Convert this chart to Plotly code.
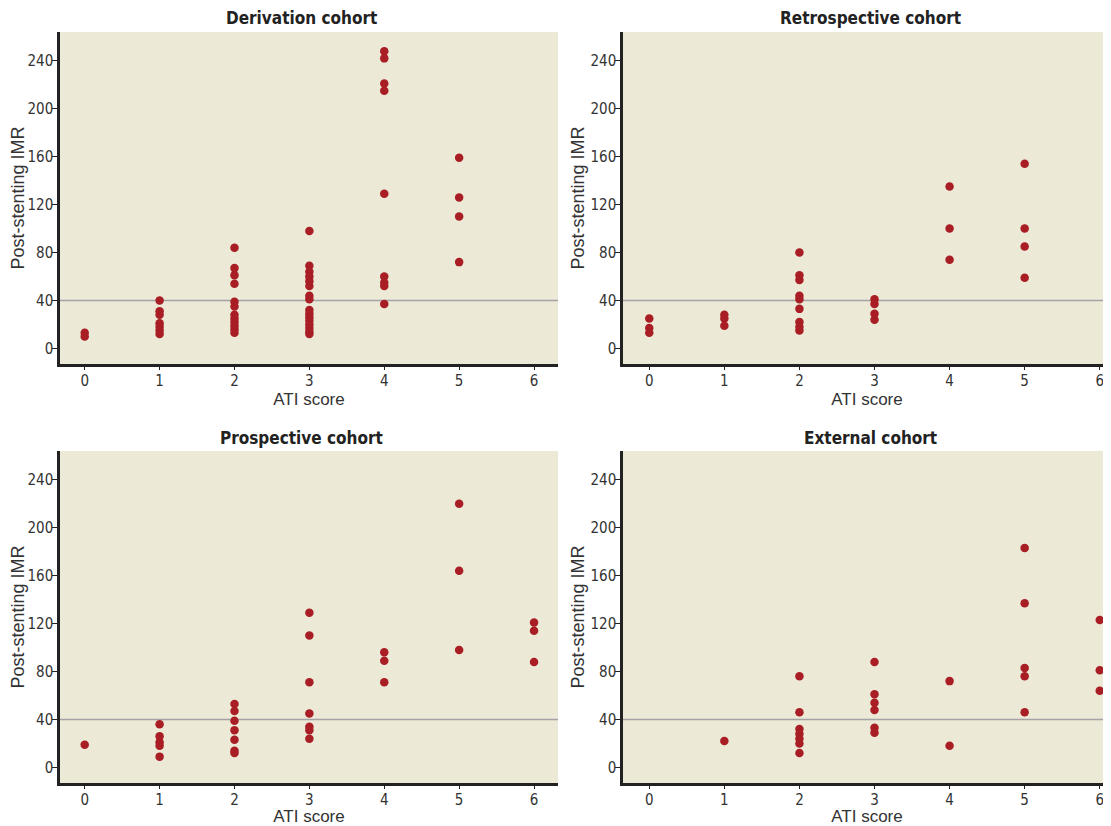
import plotly.graph_objects as go

# ---------------- data ----------------
cohort_titles = ["Derivation cohort", "Retrospective cohort", "Prospective cohort", "External cohort"]

derivation_ati = [0]*2 + [1]*7 + [2]*12 + [3]*16 + [4]*9 + [5]*4
derivation_imr = [13, 10,
                  40, 31, 28, 21, 18, 15, 12,
                  84, 67, 61, 54, 39, 35, 28, 25, 22, 19, 16, 13,
                  98, 69, 64, 60, 56, 52, 44, 41, 32, 29, 26, 23, 20, 17, 14, 12,
                  248, 242, 221, 215, 129, 60, 55, 52, 37,
                  159, 126, 110, 72]

retrospective_ati = [0]*3 + [1]*3 + [2]*9 + [3]*4 + [4]*3 + [5]*4
retrospective_imr = [25, 17, 13,
                     28, 25, 19,
                     80, 61, 57, 44, 41, 33, 22, 18, 15,
                     41, 37, 29, 24,
                     135, 100, 74,
                     154, 100, 85, 59]

prospective_ati = [0]*1 + [1]*5 + [2]*7 + [3]*7 + [4]*3 + [5]*3 + [6]*3
prospective_imr = [19,
                   36, 26, 21, 18, 9,
                   53, 47, 39, 31, 23, 14, 12,
                   129, 110, 71, 45, 34, 31, 24,
                   96, 89, 71,
                   220, 164, 98,
                   121, 114, 88]

external_ati = [1]*1 + [2]*7 + [3]*6 + [4]*2 + [5]*5 + [6]*3
external_imr = [22,
                76, 46, 32, 28, 24, 20, 12,
                88, 61, 54, 48, 33, 29,
                72, 18,
                183, 137, 83, 76, 46,
                123, 81, 64]

threshold_imr = 40
y_ticks = [0, 40, 80, 120, 160, 200, 240]
x_ticks = [0, 1, 2, 3, 4, 5, 6]

cohorts = [(derivation_ati, derivation_imr),
           (retrospective_ati, retrospective_imr),
           (prospective_ati, prospective_imr),
           (external_ati, external_imr)]

# ---------------- style / layout ----------------
OFF = 8  # page body margin of the html page
W, H = 1111 - OFF, 826 - OFF
BG = "#ECE9D6"
DOT = "#A81E24"
LINE40 = "#A3A3A8"
AXIS = "#222222"
NARROW = "Liberation Sans Narrow, DejaVu Sans Condensed, Arial Narrow, sans-serif"
TICKFONT = dict(family=NARROW, size=15, color="#333333")
TITLEFONT = dict(family=NARROW, size=17, color="#222222")
LABELFONT = dict(family="Liberation Sans, Arial, sans-serif", size=17, color="#333333")
YLABELFONT = dict(family="Liberation Sans, Arial, sans-serif", size=18, color="#333333")

# screen-pixel boxes of each panel: (left, right, top, bottom)
boxes = [(60, 558, 32, 364), (623, 1111, 32, 364),
         (60, 558, 451, 783), (623, 1111, 451, 783)]
xranges = [[-0.33, 6.32], [-0.35, 6.15], [-0.33, 6.32], [-0.35, 6.15]]
title_x = [301, 870, 301, 870]
title_y = [18, 18, 438, 438]


def fx(px):
    return (px - OFF) / W


def fy(py):
    return 1 - (py - OFF) / H


fig = go.Figure()
annotations = []
shapes = []
for i, ((xs, ys), (l, r, t, b)) in enumerate(zip(cohorts, boxes)):
    n = i + 1
    xa = "x" if n == 1 else f"x{n}"
    ya = "y" if n == 1 else f"y{n}"
    fig.add_trace(go.Scatter(x=xs, y=ys, mode="markers", xaxis=xa, yaxis=ya,
                             marker=dict(size=8.5, color=DOT, line=dict(width=0)),
                             showlegend=False, cliponaxis=False))
    xkey = "xaxis" if n == 1 else f"xaxis{n}"
    ykey = "yaxis" if n == 1 else f"yaxis{n}"
    fig.update_layout(**{
        xkey: dict(domain=[fx(l), min(fx(r), 1.0)], range=xranges[i], anchor=ya,
                   tickvals=x_ticks, ticks="outside", ticklen=3, tickcolor=AXIS,
                   showgrid=False, zeroline=False, showline=True, linecolor=AXIS, linewidth=2.5,
                   tickfont=TICKFONT, automargin=False, ticklabelstandoff=-2,
                   title=dict(text="ATI score", font=LABELFONT, standoff=3)),
        ykey: dict(domain=[fy(b), fy(t)], range=[-13, 264], anchor=xa,
                   tickvals=y_ticks, ticks="outside", ticklen=5, tickcolor=AXIS,
                   showgrid=False, zeroline=False, showline=True, linecolor=AXIS, linewidth=2.5,
                   tickfont=TICKFONT, automargin=False, ticklabelstandoff=-4,
                   title=dict(text="Post-stenting IMR", font=YLABELFONT, standoff=2)),
    })
    shapes.append(dict(type="line", xref=f"{xa} domain", yref=ya, x0=0, x1=1,
                       y0=threshold_imr, y1=threshold_imr,
                       line=dict(color=LINE40, width=1.5), layer="below"))
    annotations.append(dict(text=f"<b>{cohort_titles[i]}</b>", xref="paper", yref="paper",
                            x=fx(title_x[i]), y=fy(title_y[i]), xanchor="center", yanchor="middle",
                            showarrow=False, font=TITLEFONT))

fig.update_layout(width=W, height=H, margin=dict(l=0, r=0, t=0, b=0),
                  paper_bgcolor="white", plot_bgcolor=BG,
                  shapes=shapes, annotations=annotations)

fig.write_html("out.html")
